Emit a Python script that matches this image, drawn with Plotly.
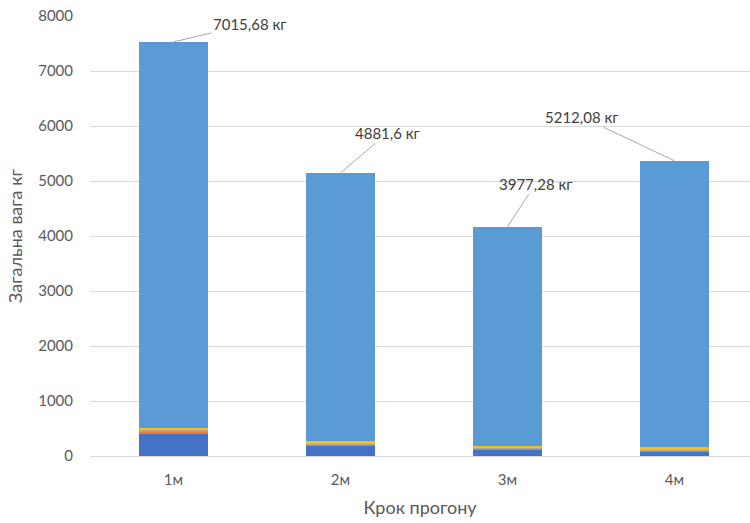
import plotly.graph_objects as go

categories = ["1м", "2м", "3м", "4м"]
seg_dark = [418, 190, 125, 90]
seg_orange = [10, 15, 10, 10]
seg_gray = [45, 25, 15, 10]
seg_gold = [40, 35, 40, 45]
seg_light = [7015.68, 4881.6, 3977.28, 5212.08]
label_texts = ["7015,68 кг", "4881,6 кг", "3977,28 кг", "5212,08 кг"]
label_ax = [76, 47, 28, -93]
label_ay = [-18, -40, -43, -44]

series = [
    (seg_dark, "#4472C4"),
    (seg_orange, "#ED7D31"),
    (seg_gray, "#A5A5A5"),
    (seg_gold, "#FFC000"),
    (seg_light, "#5B9BD5"),
]

fig = go.Figure()
for vals, col in series:
    fig.add_trace(go.Bar(x=categories, y=vals, marker=dict(color=col, line=dict(width=0)),
                         showlegend=False, hoverinfo="skip"))

totals = [sum(s[i] for s, _ in series) for i in range(len(categories))]
for i, c in enumerate(categories):
    fig.add_annotation(x=c, y=totals[i], text=label_texts[i], showarrow=True,
                       arrowhead=0, arrowwidth=1, arrowcolor="#A6A6A6",
                       ax=label_ax[i], ay=label_ay[i],
                       font=dict(family="Lato", size=15, color="#404040"))

fig.update_layout(
    barmode="stack",
    bargap=0.59,
    width=750, height=523,
    margin=dict(l=90, r=0, t=16, b=67),
    paper_bgcolor="white", plot_bgcolor="white",
    font=dict(family="Lato", size=15, color="#595959"),
    xaxis=dict(range=[-0.5, 3.452], title=dict(text="Крок прогону", standoff=14),
               showgrid=False, showline=True, linecolor="#D9D9D9", ticks="",
               ticklabelstandoff=10),
    yaxis=dict(range=[0, 8000], dtick=1000, gridcolor="#D9D9D9", zeroline=False,
               title=dict(text="Загальна вага кг", standoff=10), ticks="",
               ticklabelstandoff=16),
)

fig.write_html("out.html")
